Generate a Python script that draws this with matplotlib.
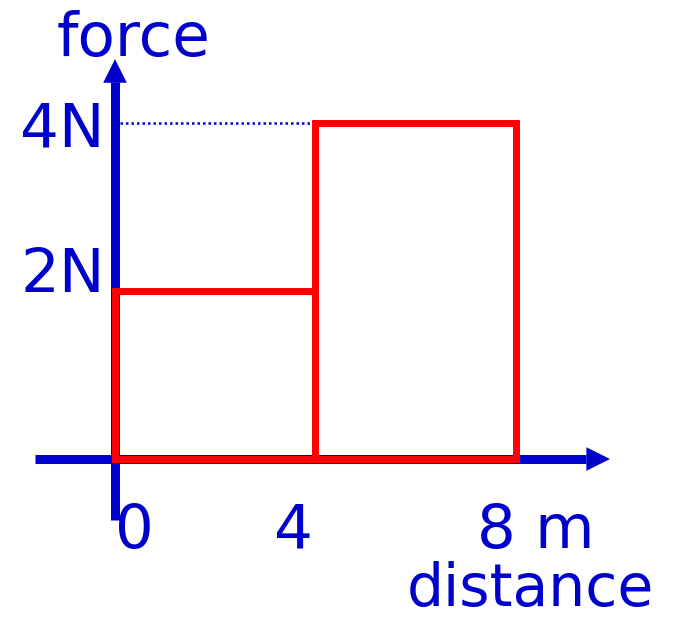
import matplotlib
matplotlib.use("Agg")
import matplotlib.pyplot as plt

# work done: force vs distance, two steps
dist_start = [0, 4]
dist_width = [4, 4]
force = [2, 4]
x_ticks = [0, 4, 8]
x_labels = ['0', '4', '8 m']
y_ticks = [2, 4]
y_labels = ['2N', '4N']

blue = '#0000cc'
red = '#ff0000'

fig = plt.figure(figsize=(6.73, 6.24), dpi=100)
ax = fig.add_axes([0, 0, 1, 1])
ax.set_xlim(-2.294, 11.132)
ax.set_ylim(-1.964, 5.464)
ax.axis('off')

# axes lines
ax.plot([0, 0], [-0.73, 4.49], color=blue, lw=6.5, solid_capstyle='butt', zorder=1)
ax.plot([-1.6, 9.40], [0, 0], color=blue, lw=6.5, solid_capstyle='butt', zorder=1)
ax.annotate('', xy=(0, 4.76), xytext=(0, 4.40),
            arrowprops=dict(arrowstyle='-|>,head_length=1.7,head_width=0.85',
                            color=blue, lw=0, shrinkA=0, shrinkB=0))
ax.annotate('', xy=(9.875, 0), xytext=(9.3, 0),
            arrowprops=dict(arrowstyle='-|>,head_length=1.7,head_width=0.85',
                            color=blue, lw=0, shrinkA=0, shrinkB=0))

# dotted guide at 4N
ax.plot([0.1, dist_start[1]], [force[1], force[1]], color=blue, lw=1.8,
        linestyle=(0, (1, 1.2)), zorder=1)

# the rectangles
ax.bar(dist_start, force, width=dist_width, align='edge', fill=False,
       edgecolor=red, linewidth=5, joinstyle='miter', zorder=3)

fs = 44
# x labels (slightly shifted like the hand drawn original)
x_shift = [0.38, -0.45, 0.40]
for xt, lab, dx in zip(x_ticks, x_labels, x_shift):
    ax.text(xt + dx, -0.86, lab, color=blue, fontsize=fs, ha='center', va='center')
y_shift = [0.19, -0.08]
for yt, lab, dy in zip(y_ticks, y_labels, y_shift):
    ax.text(-0.2, yt + dy, lab, color=blue, fontsize=fs, ha='right', va='center')

ax.text(0.38, 4.99, 'force', color=blue, fontsize=fs, ha='center', va='center')
ax.text(8.28, -1.55, 'distance', color=blue, fontsize=42, ha='center', va='center')

fig.savefig('out.png', dpi=100)
